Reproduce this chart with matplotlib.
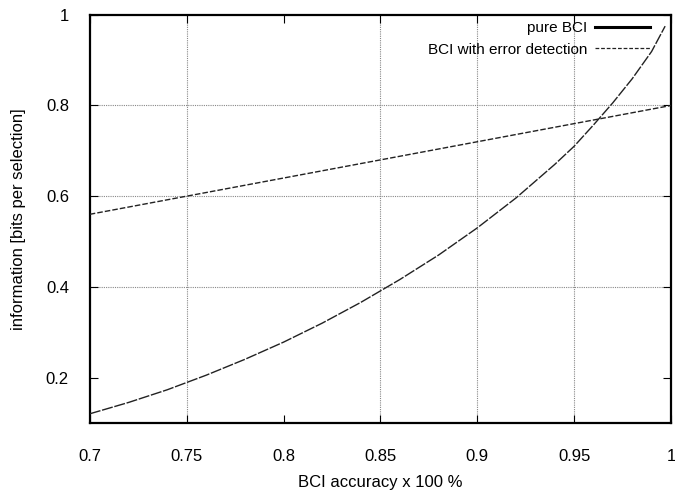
import numpy as np
import matplotlib
matplotlib.use("Agg")
import matplotlib.pyplot as plt
from matplotlib.lines import Line2D

plt.rcParams['font.family'] = ['Liberation Sans', 'DejaVu Sans']

# values
acc_pure = [0.70, 0.72, 0.74, 0.76, 0.78, 0.80, 0.82, 0.84, 0.86, 0.88,
            0.90, 0.92, 0.94, 0.95, 0.96, 0.97, 0.98, 0.99, 0.997]
info_pure = [0.12, 0.145, 0.173, 0.205, 0.24, 0.278, 0.32, 0.366, 0.416, 0.47,
             0.53, 0.596, 0.67, 0.71, 0.757, 0.806, 0.859, 0.919, 0.975]

acc_err = [0.70, 0.75, 0.80, 0.85, 0.90, 0.95, 1.00]
info_err = [0.56, 0.60, 0.64, 0.68, 0.72, 0.76, 0.80]

xticks = [0.7, 0.75, 0.8, 0.85, 0.9, 0.95, 1]
xtick_labels = ["0.7", "0.75", "0.8", "0.85", "0.9", "0.95", "1"]
yticks = [0.2, 0.4, 0.6, 0.8, 1]
ytick_labels = ["0.2", "0.4", "0.6", "0.8", "1"]

# grid lines that are actually visible in the figure
xgrid = [0.75, 0.85, 0.9, 0.95]
ygrid = [0.4, 0.6, 0.8]

fig = plt.figure(figsize=(6.75, 4.94), dpi=100)
ax = fig.add_axes([0.133, 0.144, 0.861, 0.826])

for g in xgrid:
    ax.axvline(g, color="#888888", linestyle=(0, (1, 1)), linewidth=0.8, zorder=1)
for g in ygrid:
    ax.axhline(g, color="#888888", linestyle=(0, (1, 1)), linewidth=0.8, zorder=1)

ax.plot(acc_pure, info_pure, color="#222222", linewidth=1.0,
        linestyle=(0, (8, 1.2)), zorder=3)
ax.plot(acc_err, info_err, color="#222222", linewidth=1.0,
        linestyle=(0, (4, 1.5)), zorder=3)

ax.set_xlim(0.7, 1.0)
ax.set_ylim(0.1, 1.0)
ax.set_xticks(xticks)
ax.set_xticklabels(xtick_labels)
ax.set_yticks(yticks)
ax.set_yticklabels(ytick_labels)
ax.tick_params(direction="in", top=True, right=True, length=6, width=0.8,
               labelsize=12)
ax.tick_params(axis="x", pad=19)
ax.tick_params(axis="y", pad=15)
for s in ax.spines.values():
    s.set_linewidth(1.6)

ax.set_xlabel("BCI accuracy x 100 %", fontsize=12, labelpad=8)
ax.set_ylabel("information [bits per selection]", fontsize=12, labelpad=14)

handles = [Line2D([0], [0], color="black", linewidth=2.2),
           Line2D([0], [0], color="#222222", linewidth=0.9, linestyle=(0, (3, 1.5)))]
ax.legend(handles, ["pure BCI", "BCI with error detection"], loc="upper right",
          frameon=False, markerfirst=False, fontsize=11, handlelength=3.6,
          handletextpad=0.5, borderaxespad=0.2, borderpad=0.2, labelspacing=0.5,
          bbox_to_anchor=(0.975, 1.0))

fig.savefig("out.png", dpi=100)
